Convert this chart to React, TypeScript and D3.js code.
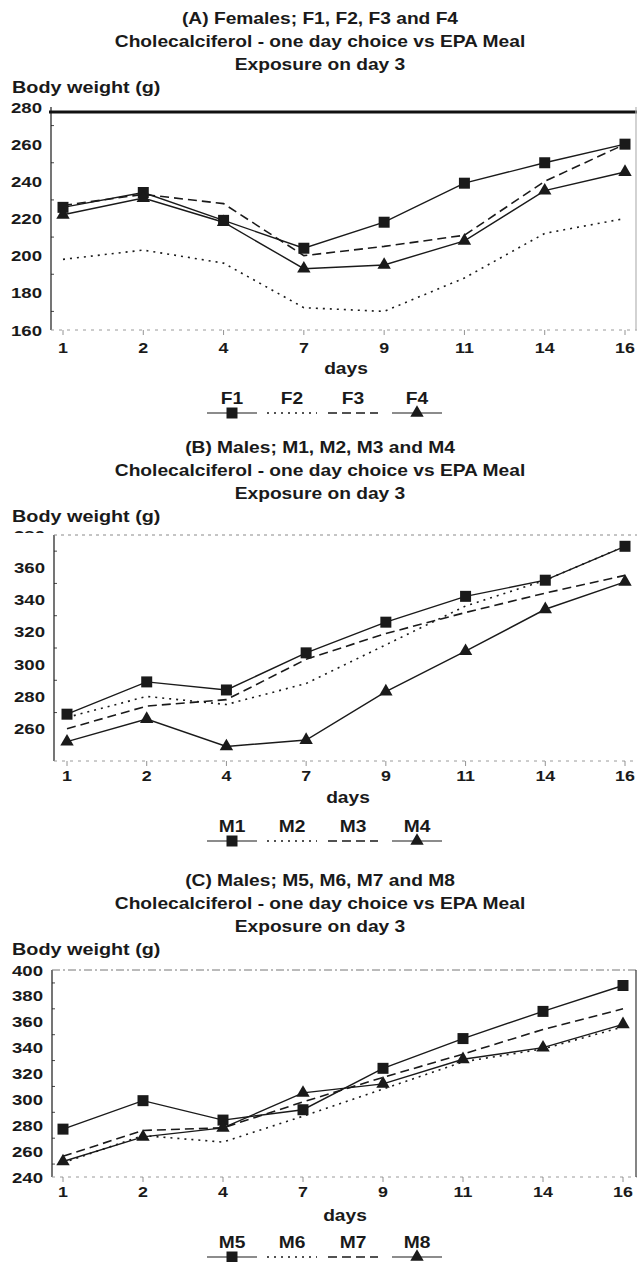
import React from 'react';
import * as d3 from 'd3';

// days on the x axis
const days = ['1', '2', '4', '7', '9', '11', '14', '16'];

// (A) females, body weight (g)
const F1 = [226, 234, 219, 204, 218, 239, 250, 260];
const F2 = [198, 203, 196, 172, 170, 188, 212, 220];
const F3 = [227, 233, 228, 200, 205, 211, 240, 260];
const F4 = [222, 231, 218, 193, 195, 208, 235, 245];

// (B) males 1-4
const M1 = [269, 289, 284, 307, 326, 342, 352, 373];
const M2 = [267, 280, 275, 288, 312, 336, 352, 373];
const M3 = [260, 274, 278, 303, 319, 332, 344, 355];
const M4 = [252, 266, 249, 253, 283, 308, 334, 351];

// (C) males 5-8
const M5 = [277, 299, 284, 292, 324, 347, 368, 388];
const M6 = [251, 272, 267, 287, 308, 329, 339, 356];
const M7 = [256, 276, 278, 298, 317, 335, 354, 370];
const M8 = [252, 271, 278, 305, 312, 331, 340, 358];

const ticksA = [160, 180, 200, 220, 240, 260, 280];
const ticksB = [260, 280, 300, 320, 340, 360, 380];
const ticksC = [240, 260, 280, 300, 320, 340, 360, 380, 400];

const subtitle = 'Cholecalciferol - one day choice vs EPA Meal';
const exposure = 'Exposure on day 3';

const FONT = "Arial, 'Liberation Sans', sans-serif";
const INK = '#1a1a1a';

// line style of the 4 series in each panel
const looks = [
  { dash: null, marker: 'square' },
  { dash: '2,5', marker: null },
  { dash: '9,5', marker: null },
  { dash: null, marker: 'triangle' },
];

const T = ({ x, y, size = 16, anchor = 'middle', sx = 1.2, children }: any) => (
  <text
    transform={`translate(${x},${y}) scale(${sx},1)`}
    textAnchor={anchor}
    fontSize={size}
    fontWeight="bold"
    fontFamily={FONT}
    fill={INK}
  >
    {children}
  </text>
);

const squarePath = d3.symbol(d3.symbolSquare, 121)();
const trianglePath = d3.symbol(d3.symbolTriangle, 78)();

const Marker = ({ kind, x, y }: any) =>
  kind ? (
    <path d={kind === 'square' ? squarePath : trianglePath} transform={`translate(${x},${y})`} fill={INK} />
  ) : null;

const Panel = (p: any) => {
  const x = d3.scalePoint().domain(days).range(p.xRange);
  const y = d3.scaleLinear().domain(p.yDomain).range(p.yRange);
  const line = d3
    .line<number>()
    .x((d, i) => x(days[i]) as number)
    .y(d => y(d));
  const [bottom, top] = p.yRange;
  const clipId = `clip-${p.id}`;
  const legendX = [232, 292, 353, 417];

  return (
    <g>
      {p.titles.map((t: string, i: number) => (
        <T key={i} x={320} y={p.titleY + i * 23 + 6}>
          {t}
        </T>
      ))}
      <T x={12} y={p.titleY + 3 * 23 + 6} anchor="start" size={16.5}>
        Body weight (g)
      </T>

      <clipPath id={clipId}>
        <rect x={0} y={0} width={637} height={p.labelClip || 2000} />
      </clipPath>

      {/* frame */}
      <line x1={p.axisX} x2={p.axisX} y1={top} y2={bottom} stroke={INK} strokeWidth={1.2} />
      <line
        x1={p.axisX - (p.topWidth > 2 ? 2 : 0)}
        x2={637}
        y1={top + (p.topShift || 0)}
        y2={top + (p.topShift || 0)}
        stroke={p.topColor}
        strokeWidth={p.topWidth}
        strokeDasharray={p.topDash || undefined}
      />
      <line x1={p.axisX} x2={637} y1={bottom} y2={bottom} stroke="#9a9a9a" strokeWidth={1} strokeDasharray="3,5" />
      {p.rightColor && (
        <line x1={636} x2={636} y1={top} y2={bottom} stroke={p.rightColor} strokeWidth={1.2} />
      )}

      {/* y ticks */}
      {p.ticks.map((v: number) => (
        <g key={v}>
          <g clipPath={v === p.yDomain[1] && p.labelClip ? `url(#${clipId})` : undefined}>
            <T x={p.axisX - 9} y={y(v) + 5.5} anchor="end" size={15.5} sx={1.2}>
              {v}
            </T>
          </g>
          {v + 10 <= p.yDomain[1] && (
            <line x1={p.axisX} x2={p.axisX + 3} y1={y(v + 10)} y2={y(v + 10)} stroke={INK} strokeWidth={0.8} />
          )}
        </g>
      ))}

      {/* x ticks */}
      {days.map(d => (
        <g key={d}>
          <line x1={x(d)} x2={x(d)} y1={bottom} y2={bottom + 5} stroke="#777" strokeWidth={0.8} />
          <T x={x(d)} y={p.xLabelY + 6} size={15.5} sx={1.15}>
            {d}
          </T>
        </g>
      ))}
      <T x={(x('7') as number + (x('9') as number)) / 2 + 2} y={p.daysY + 6}>
        days
      </T>

      {/* series */}
      {p.series.map((s: number[], i: number) => (
        <path
          key={i}
          d={line(s) as string}
          fill="none"
          stroke={INK}
          strokeWidth={looks[i].dash ? 1.6 : 1.4}
          strokeDasharray={looks[i].dash || undefined}
        />
      ))}
      {p.series.map((s: number[], i: number) =>
        s.map((v, j) => <Marker key={`${i}-${j}`} kind={looks[i].marker} x={x(days[j])} y={y(v)} />)
      )}

      {/* legend */}
      {p.names.map((n: string, i: number) => (
        <g key={n}>
          <line
            x1={legendX[i] - 25}
            x2={legendX[i] + 25}
            y1={p.legendY}
            y2={p.legendY}
            stroke={INK}
            strokeWidth={looks[i].dash ? 1.4 : 1.1}
            strokeDasharray={looks[i].dash || undefined}
          />
          <T x={legendX[i]} y={p.legendY - 9}>
            {n}
          </T>
          <Marker kind={looks[i].marker} x={legendX[i]} y={p.legendY} />
        </g>
      ))}
    </g>
  );
};

export default function App() {
  return (
    <svg
      width={637}
      height={1262}
      style={{ position: 'absolute', left: 0, top: 0, background: '#fff' }}
    >
      <rect width={637} height={1262} fill="#fff" />
      <Panel
        id="a"
        titles={['(A) Females; F1, F2, F3 and F4', subtitle, exposure]}
        titleY={18}
        names={['F1', 'F2', 'F3', 'F4']}
        series={[F1, F2, F3, F4]}
        ticks={ticksA}
        yDomain={[160, 280]}
        yRange={[330, 107]}
        xRange={[63, 625]}
        axisX={51}
        topColor="#111"
        topWidth={3}
        topShift={5}
        rightColor="#b5b5b5"
        xLabelY={347}
        daysY={368}
        legendY={413}
      />
      <Panel
        id="b"
        titles={['(B) Males; M1, M2, M3 and M4', subtitle, exposure]}
        titleY={447}
        names={['M1', 'M2', 'M3', 'M4']}
        series={[M1, M2, M3, M4]}
        ticks={ticksB}
        yDomain={[240, 380]}
        yRange={[761, 535]}
        xRange={[67, 625]}
        axisX={54}
        topColor="#8a8a8a"
        topWidth={1}
        topDash="3,4"
        labelClip={533}
        xLabelY={775}
        daysY={797}
        legendY={841}
      />
      <Panel
        id="c"
        titles={['(C) Males; M5, M6, M7 and M8', subtitle, exposure]}
        titleY={880}
        names={['M5', 'M6', 'M7', 'M8']}
        series={[M5, M6, M7, M8]}
        ticks={ticksC}
        yDomain={[240, 400]}
        yRange={[1177, 970]}
        xRange={[63, 623]}
        axisX={52}
        topColor="#777"
        topWidth={1}
        topDash="8,3,2,3"
        rightColor="#333"
        xLabelY={1191}
        daysY={1215}
        legendY={1257}
      />
    </svg>
  );
}
